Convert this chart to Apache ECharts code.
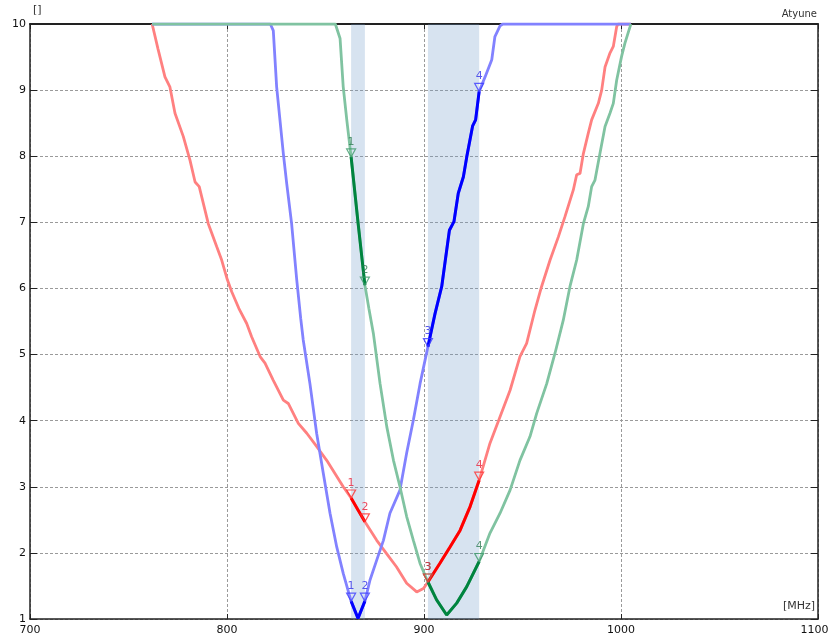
<!DOCTYPE html>
<html>
<head>
<meta charset="utf-8">
<script src="https://cdn.jsdelivr.net/npm/echarts@6/dist/echarts.min.js"></script>
<style>
html,body{margin:0;padding:0;background:#fff;overflow:hidden;width:829px;height:637px;}
#chart{width:829px;height:637px;}
</style>
</head>
<body>
<div id="chart"></div>
<script>
// ---- data (frequency in MHz, VSWR) ----
const xTicks = [700, 800, 900, 1000, 1100];
const yTicks = [1, 2, 3, 4, 5, 6, 7, 8, 9, 10];
const bands = [[863, 870], [902, 928]];
const markerFreqs = [863, 870, 902, 928];
const markerLabels = ['1', '2', '3', '4'];

const redFreq = [762, 765, 768.5, 771, 773.6, 777.8, 781.2, 783.8, 785.9, 790.5, 794.8, 797.3, 800.2, 802.4, 806, 810, 812.5, 816.8, 819.3, 823.5, 828.6, 831.1, 836.2, 840.5, 845.5, 850.6, 854.8, 859, 863, 866.5, 870, 876, 881, 886, 891.2, 896.3, 899.7, 902, 908, 913.2, 918.3, 923.4, 928, 933.5, 938.6, 943.7, 948.7, 952.1, 956.3, 959.7, 964, 968.2, 971.6, 975.8, 977.5, 979.2, 980.9, 983.4, 985.1, 988.5, 990.2, 991.9, 994.4, 996.1, 997.8, 998.5, 1005];
const redVswr = [10, 9.62, 9.2, 9.05, 8.65, 8.3, 7.94, 7.61, 7.54, 6.98, 6.63, 6.43, 6.13, 5.95, 5.7, 5.47, 5.27, 4.97, 4.87, 4.61, 4.31, 4.26, 3.96, 3.81, 3.61, 3.4, 3.2, 3.0, 2.83, 2.65, 2.47, 2.19, 1.99, 1.79, 1.54, 1.41, 1.46, 1.56, 1.84, 2.09, 2.34, 2.7, 3.1, 3.66, 4.06, 4.46, 4.97, 5.17, 5.67, 6.03, 6.43, 6.78, 7.09, 7.49, 7.72, 7.74, 8.04, 8.35, 8.55, 8.8, 9.0, 9.35, 9.56, 9.66, 9.96, 10, 10];

const blueFreq = [762, 822, 823.5, 825.2, 828.6, 830.3, 832.8, 835.4, 837.4, 838.7, 842.1, 845.5, 848.9, 852.3, 855.7, 859, 863, 866.5, 870, 872.6, 876, 879.4, 882.7, 887.8, 891.2, 894.6, 898, 902, 905.6, 909, 912.9, 915.2, 917.4, 920, 921.7, 924.7, 926.2, 928, 931, 934.4, 936, 938.6, 940, 1005];
const blueVswr = [10, 10, 9.9, 9.05, 8.04, 7.59, 6.98, 6.13, 5.55, 5.22, 4.56, 3.81, 3.2, 2.6, 2.09, 1.69, 1.27, 1.01, 1.27, 1.59, 1.89, 2.19, 2.6, 2.95, 3.51, 4.01, 4.56, 5.12, 5.62, 6.03, 6.88, 7.01, 7.44, 7.69, 7.99, 8.46, 8.55, 8.98, 9.2, 9.46, 9.81, 9.97, 10, 10];

const greenFreq = [762, 855, 857.4, 859, 860.8, 863, 866.5, 870, 872, 874.3, 877.7, 881.1, 884.5, 887.8, 891.2, 894.6, 898, 902, 906.4, 911.5, 916.6, 921.7, 928, 933.5, 938.6, 943.7, 948.7, 953.8, 957.2, 962.3, 966.5, 970.7, 974.1, 977.5, 980.9, 983.4, 985.1, 986.8, 989.3, 991.9, 994.4, 996.1, 997.8, 1000.3, 1002, 1004.6, 1005];
const greenVswr = [10, 10, 9.78, 9.05, 8.55, 7.99, 7.0, 6.05, 5.7, 5.32, 4.56, 3.91, 3.4, 3.0, 2.55, 2.19, 1.84, 1.56, 1.29, 1.06, 1.24, 1.49, 1.87, 2.3, 2.6, 2.95, 3.4, 3.76, 4.11, 4.56, 5.02, 5.52, 6.03, 6.43, 6.98, 7.24, 7.54, 7.64, 8.04, 8.45, 8.65, 8.8, 9.15, 9.51, 9.71, 9.96, 10];

// ---- helpers ----
function pairs(f, v) { return f.map((x, i) => [x, v[i]]); }
function inBand(x) { return bands.some(b => x >= b[0] && x <= b[1]); }
function boldPart(f, v) {
  const out = [];
  f.forEach((x, i) => {
    if (inBand(x)) out.push([x, v[i]]);
    else if (out.length && out[out.length - 1] !== null) out.push(null);
  });
  return out;
}
function markerPts(f, v) {
  return markerFreqs.map((m, k) => {
    const i = f.indexOf(m);
    return { value: [m, v[i]], name: markerLabels[k] };
  });
}

const FONT = 'DejaVu Sans';
const series = [];
const defs = [
  { name: 'red', f: redFreq, v: redVswr, light: '#ff8080', bold: '#ff0000', mk: '#ff3030', lab: '#e8203a' },
  { name: 'blue', f: blueFreq, v: blueVswr, light: '#8282ff', bold: '#0000ff', mk: '#3a3aff', lab: '#3030e8' },
  { name: 'green', f: greenFreq, v: greenVswr, light: '#80c3a1', bold: '#00843f', mk: '#3d9a6a', lab: '#2f7d55' }
];

// bands
series.push({
  type: 'line', data: [], silent: true,
  markArea: {
    silent: true,
    itemStyle: { color: 'rgba(110,155,200,0.28)' },
    data: bands.map(b => [{ xAxis: b[0] }, { xAxis: b[1] }])
  }
});
defs.forEach(d => {
  series.push({
    type: 'line', name: d.name + '-full', data: pairs(d.f, d.v), showSymbol: false, symbol: 'none',
    lineStyle: { color: d.light, width: 2.8 }, z: 2, silent: true
  });
});
defs.forEach(d => {
  series.push({
    type: 'line', name: d.name + '-band', data: boldPart(d.f, d.v), showSymbol: false, symbol: 'none',
    connectNulls: false, lineStyle: { color: d.bold, width: 3 }, z: 3, silent: true
  });
});
[defs[1], defs[2], defs[0]].forEach(d => {
  series.push({
    type: 'scatter', name: d.name + '-mk', data: markerPts(d.f, d.v),
    symbol: 'triangle', symbolSize: [9, 8], symbolRotate: 180, symbolOffset: [0, -4],
    itemStyle: { color: 'rgba(255,255,255,0)', borderColor: d.mk, borderWidth: 1.2 },
    label: { show: true, position: 'top', distance: 1, formatter: p => p.name, color: d.lab, fontSize: 11, fontFamily: FONT },
    z: 4, silent: true
  });
});

const axisLine = { show: true, lineStyle: { color: '#222', width: 1.5 } };
const gridLine = { show: true, lineStyle: { color: '#9a9a9a', type: [3, 2], width: 1 } };
const lastX = xTicks[xTicks.length - 1];

const option = {
  animation: false,
  backgroundColor: '#fff',
  grid: { left: 30, right: 11, top: 24, bottom: 18, containLabel: false, outerBoundsMode: 'none' },
  xAxis: [
    {
      type: 'value', position: 'bottom', min: xTicks[0], max: lastX, interval: 100,
      axisLine: axisLine, axisTick: { show: true, inside: true, length: 5, lineStyle: { color: '#222' } },
      axisLabel: {
        color: '#111', fontSize: 11, fontFamily: FONT, margin: 6, showMaxLabel: true, showMinLabel: true,
        formatter: v => (v === lastX ? '{r|' + v + '}' : String(v)),
        rich: { r: { fontSize: 11, fontFamily: FONT, color: '#111', padding: [0, 7, 0, 0] } }
      },
      splitLine: gridLine
    },
    {
      type: 'value', position: 'top', min: xTicks[0], max: lastX, interval: 100,
      axisLine: { show: true, lineStyle: { color: '#222', width: 2 } },
      axisTick: { show: true, inside: true, length: 5, lineStyle: { color: '#222' } },
      axisLabel: { show: false }, splitLine: { show: false }
    }
  ],
  yAxis: [
    {
      type: 'value', position: 'left', min: yTicks[0], max: yTicks[yTicks.length - 1], interval: 1,
      axisLine: axisLine, axisTick: { show: true, inside: true, length: 7, lineStyle: { color: '#222' } },
      axisLabel: { color: '#111', fontSize: 11, fontFamily: FONT, margin: 4, formatter: v => String(v) },
      splitLine: gridLine
    },
    {
      type: 'value', position: 'right', min: yTicks[0], max: yTicks[yTicks.length - 1], interval: 1,
      axisLine: axisLine, axisTick: { show: true, inside: true, length: 7, lineStyle: { color: '#222' } },
      axisLabel: { show: false }, splitLine: { show: false }
    }
  ],
  graphic: [
    { type: 'text', left: 33, top: 5, style: { text: '[]', fontSize: 11, fontFamily: FONT, fill: '#333' } },
    { type: 'text', right: 12, top: 9, style: { text: 'Atyune', fontSize: 10, fontFamily: FONT, fill: '#333' } },
    { type: 'text', right: 14, top: 601, style: { text: '[MHz]', fontSize: 11, fontFamily: FONT, fill: '#333' }, z: 10 }
  ],
  series: series
};

const chart = echarts.init(document.getElementById('chart'), null, { renderer: 'canvas' });
chart.setOption(option);
</script>
</body>
</html>
